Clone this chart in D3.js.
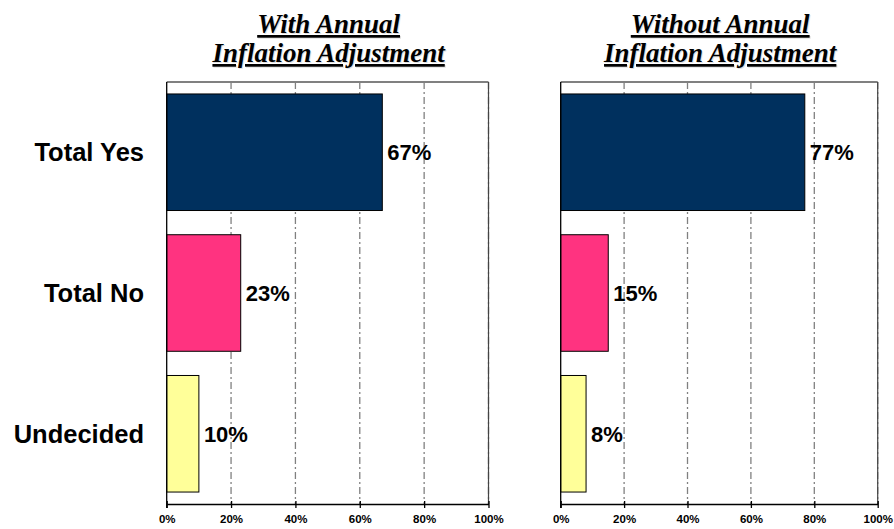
<!DOCTYPE html>
<html><head><meta charset="utf-8">
<script src="https://cdn.jsdelivr.net/npm/d3@7"></script>
<style>body{margin:0;background:#fff}svg{display:block}</style>
</head><body>
<svg id="c" width="894" height="529"></svg>
<script>
const categories = ["Total Yes", "Total No", "Undecided"];
const withAdj = [67, 23, 10];
const withoutAdj = [77, 15, 8];
const barColors = ["#00305E", "#FF3380", "#FFFF99"];
const tickValues = [0, 20, 40, 60, 80, 100];
const titlesLeft = ["With Annual", "Inflation Adjustment"];
const titlesRight = ["Without Annual", "Inflation Adjustment"];

const svg = d3.select("#c");
const yTop = 82, yBot = 504;

const y = d3.scaleBand().domain(categories).range([yTop, yBot])
  .paddingInner(0.172).paddingOuter(0.085);

function panel(x0, x1, values, titles, showCats) {
  const x = d3.scaleLinear().domain([0, 100]).range([x0, x1]);
  const g = svg.append("g");
  const cx = (x0 + x1) / 2 + 1;

  titles.forEach((t, i) => {
    g.append("text").attr("x", cx + 1).attr("y", 33 + i * 29 + 1)
      .attr("text-anchor", "middle")
      .style("font-family", "'Liberation Serif', 'Times New Roman', serif")
      .style("font-weight", "bold").style("font-style", "italic")
      .style("font-size", "27px").style("text-decoration", "underline")
      .attr("fill", "#bbb").attr("opacity", 0.45).text(t);
    g.append("text").attr("x", cx).attr("y", 33 + i * 29)
      .attr("text-anchor", "middle")
      .style("font-family", "'Liberation Serif', 'Times New Roman', serif")
      .style("font-weight", "bold").style("font-style", "italic")
      .style("font-size", "27px").style("text-decoration", "underline")
      .attr("fill", "#000").text(t);
  });

  g.append("line").attr("x1", x(0)).attr("x2", x(100)).attr("y1", yTop).attr("y2", yTop)
    .attr("stroke", "#808080").attr("stroke-width", 2);

  g.selectAll(".grid").data(tickValues.filter(d => d > 0)).join("line")
    .attr("x1", d => x(d)).attr("x2", d => x(d))
    .attr("y1", yTop).attr("y2", yBot)
    .attr("stroke", "#808080").attr("stroke-width", 1.3)
    .attr("stroke-dasharray", "7,3,2,3");
  g.append("line").attr("x1", x(100)).attr("x2", x(100)).attr("y1", yTop).attr("y2", yBot)
    .attr("stroke", "#444").attr("stroke-width", 1.2);

  g.selectAll(".bar").data(values).join("rect")
    .attr("x", x(0)).attr("y", (d, i) => y(categories[i]))
    .attr("width", d => x(d) - x(0)).attr("height", y.bandwidth())
    .attr("fill", (d, i) => barColors[i])
    .attr("stroke", "#000").attr("stroke-width", 1);

  g.selectAll(".val").data(values).join("text")
    .attr("x", d => x(d) + 5)
    .attr("y", (d, i) => y(categories[i]) + y.bandwidth() / 2)
    .attr("dy", "0.36em")
    .style("font-family", "Arial, 'Liberation Sans', sans-serif")
    .style("font-weight", "bold").style("font-size", "22px")
    .text(d => d + "%");

  g.append("line").attr("x1", x(0)).attr("x2", x(0)).attr("y1", yTop).attr("y2", yBot + 4)
    .attr("stroke", "#000").attr("stroke-width", 1.3);

  const ax = g.append("g").attr("transform", `translate(0,${yBot})`)
    .call(d3.axisBottom(x).tickValues(tickValues).tickFormat(d => d + "%").tickSize(4).tickSizeOuter(0).tickPadding(7));
  ax.select(".domain").attr("stroke", "#000").attr("stroke-width", 1.3);
  ax.selectAll(".tick line").attr("stroke", "#000").attr("stroke-width", 1.3).attr("y1", -3);
  ax.selectAll(".tick text")
    .style("font-family", "Arial, 'Liberation Sans', sans-serif")
    .style("font-weight", "bold").style("font-size", "11.5px").attr("fill", "#000");

  if (showCats) {
    g.selectAll(".cat").data(categories).join("text")
      .attr("x", 144).attr("y", d => y(d) + y.bandwidth() / 2)
      .attr("dy", "0.36em").attr("text-anchor", "end")
      .style("font-family", "Arial, 'Liberation Sans', sans-serif")
      .style("font-weight", "bold").style("font-size", "25.5px")
      .text(d => d);
  }
}

panel(166.7, 488.5, withAdj, titlesLeft, true);
panel(560.7, 877.7, withoutAdj, titlesRight, false);
</script>
</body></html>
